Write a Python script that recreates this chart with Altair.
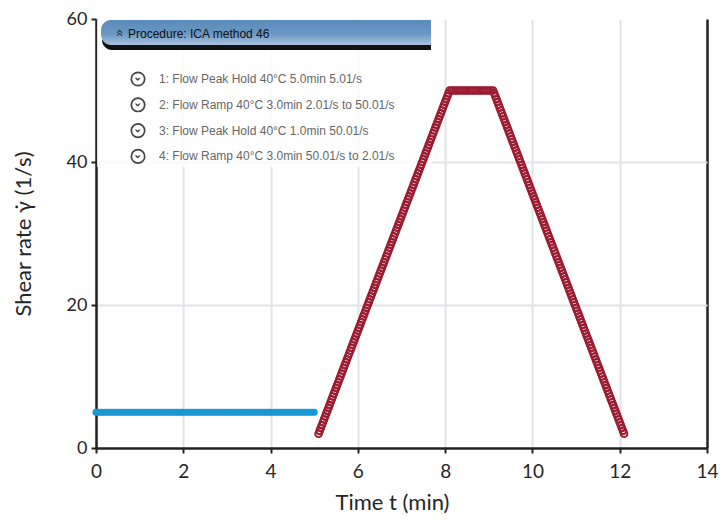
import altair as alt
import pandas as pd

# ---------------- data ----------------
# Step 1: Flow peak hold, 5.01 1/s for 5 min (blue)
BLUE_T = [
    0.00, 0.05, 0.10, 0.15, 0.20, 0.25, 0.30, 0.35, 0.40, 0.45,
    0.50, 0.55, 0.60, 0.65, 0.70, 0.75, 0.80, 0.85, 0.90, 0.95,
    1.00, 1.05, 1.10, 1.15, 1.20, 1.25, 1.30, 1.35, 1.40, 1.45,
    1.50, 1.55, 1.60, 1.65, 1.70, 1.75, 1.80, 1.85, 1.90, 1.95,
    2.00, 2.05, 2.10, 2.15, 2.20, 2.25, 2.30, 2.35, 2.40, 2.45,
    2.50, 2.55, 2.60, 2.65, 2.70, 2.75, 2.80, 2.85, 2.90, 2.95,
    3.00, 3.05, 3.10, 3.15, 3.20, 3.25, 3.30, 3.35, 3.40, 3.45,
    3.50, 3.55, 3.60, 3.65, 3.70, 3.75, 3.80, 3.85, 3.90, 3.95,
    4.00, 4.05, 4.10, 4.15, 4.20, 4.25, 4.30, 4.35, 4.40, 4.45,
    4.50, 4.55, 4.60, 4.65, 4.70, 4.75, 4.80, 4.85, 4.90, 4.95,
    5.00,
]
BLUE_V = [5.01] * len(BLUE_T)

# Step 2: ramp up 2 -> 50 1/s (red)
RAMP_UP_T = [
    5.100, 5.125, 5.150, 5.175, 5.200, 5.225, 5.250, 5.275, 5.300, 5.325,
    5.350, 5.375, 5.400, 5.425, 5.450, 5.475, 5.500, 5.525, 5.550, 5.575,
    5.600, 5.625, 5.650, 5.675, 5.700, 5.725, 5.750, 5.775, 5.800, 5.825,
    5.850, 5.875, 5.900, 5.925, 5.950, 5.975, 6.000, 6.025, 6.050, 6.075,
    6.100, 6.125, 6.150, 6.175, 6.200, 6.225, 6.250, 6.275, 6.300, 6.325,
    6.350, 6.375, 6.400, 6.425, 6.450, 6.475, 6.500, 6.525, 6.550, 6.575,
    6.600, 6.625, 6.650, 6.675, 6.700, 6.725, 6.750, 6.775, 6.800, 6.825,
    6.850, 6.875, 6.900, 6.925, 6.950, 6.975, 7.000, 7.025, 7.050, 7.075,
    7.100, 7.125, 7.150, 7.175, 7.200, 7.225, 7.250, 7.275, 7.300, 7.325,
    7.350, 7.375, 7.400, 7.425, 7.450, 7.475, 7.500, 7.525, 7.550, 7.575,
    7.600, 7.625, 7.650, 7.675, 7.700, 7.725, 7.750, 7.775, 7.800, 7.825,
    7.850, 7.875, 7.900, 7.925, 7.950, 7.975, 8.000, 8.025, 8.050, 8.075,
    8.100,
]
RAMP_UP_V = [
    2.0, 2.4, 2.8, 3.2, 3.6, 4.0, 4.4, 4.8, 5.2, 5.6,
    6.0, 6.4, 6.8, 7.2, 7.6, 8.0, 8.4, 8.8, 9.2, 9.6,
    10.0, 10.4, 10.8, 11.2, 11.6, 12.0, 12.4, 12.8, 13.2, 13.6,
    14.0, 14.4, 14.8, 15.2, 15.6, 16.0, 16.4, 16.8, 17.2, 17.6,
    18.0, 18.4, 18.8, 19.2, 19.6, 20.0, 20.4, 20.8, 21.2, 21.6,
    22.0, 22.4, 22.8, 23.2, 23.6, 24.0, 24.4, 24.8, 25.2, 25.6,
    26.0, 26.4, 26.8, 27.2, 27.6, 28.0, 28.4, 28.8, 29.2, 29.6,
    30.0, 30.4, 30.8, 31.2, 31.6, 32.0, 32.4, 32.8, 33.2, 33.6,
    34.0, 34.4, 34.8, 35.2, 35.6, 36.0, 36.4, 36.8, 37.2, 37.6,
    38.0, 38.4, 38.8, 39.2, 39.6, 40.0, 40.4, 40.8, 41.2, 41.6,
    42.0, 42.4, 42.8, 43.2, 43.6, 44.0, 44.4, 44.8, 45.2, 45.6,
    46.0, 46.4, 46.8, 47.2, 47.6, 48.0, 48.4, 48.8, 49.2, 49.6,
    50.0,
]

# Step 3: peak hold at 50 1/s for 1 min (red)
HOLD_T = [8.15, 8.20, 8.25, 8.30, 8.35, 8.40, 8.45, 8.50, 8.55, 8.60,
          8.65, 8.70, 8.75, 8.80, 8.85, 8.90, 8.95, 9.00, 9.05]
HOLD_V = [50.0] * len(HOLD_T)

# Step 4: ramp down 50 -> 2 1/s (red)
RAMP_DOWN_T = [
    9.100, 9.125, 9.150, 9.175, 9.200, 9.225, 9.250, 9.275, 9.300, 9.325,
    9.350, 9.375, 9.400, 9.425, 9.450, 9.475, 9.500, 9.525, 9.550, 9.575,
    9.600, 9.625, 9.650, 9.675, 9.700, 9.725, 9.750, 9.775, 9.800, 9.825,
    9.850, 9.875, 9.900, 9.925, 9.950, 9.975, 10.000, 10.025, 10.050, 10.075,
    10.100, 10.125, 10.150, 10.175, 10.200, 10.225, 10.250, 10.275, 10.300, 10.325,
    10.350, 10.375, 10.400, 10.425, 10.450, 10.475, 10.500, 10.525, 10.550, 10.575,
    10.600, 10.625, 10.650, 10.675, 10.700, 10.725, 10.750, 10.775, 10.800, 10.825,
    10.850, 10.875, 10.900, 10.925, 10.950, 10.975, 11.000, 11.025, 11.050, 11.075,
    11.100, 11.125, 11.150, 11.175, 11.200, 11.225, 11.250, 11.275, 11.300, 11.325,
    11.350, 11.375, 11.400, 11.425, 11.450, 11.475, 11.500, 11.525, 11.550, 11.575,
    11.600, 11.625, 11.650, 11.675, 11.700, 11.725, 11.750, 11.775, 11.800, 11.825,
    11.850, 11.875, 11.900, 11.925, 11.950, 11.975, 12.000, 12.025, 12.050, 12.075,
    12.100,
]
RAMP_DOWN_V = [
    50.0, 49.6, 49.2, 48.8, 48.4, 48.0, 47.6, 47.2, 46.8, 46.4,
    46.0, 45.6, 45.2, 44.8, 44.4, 44.0, 43.6, 43.2, 42.8, 42.4,
    42.0, 41.6, 41.2, 40.8, 40.4, 40.0, 39.6, 39.2, 38.8, 38.4,
    38.0, 37.6, 37.2, 36.8, 36.4, 36.0, 35.6, 35.2, 34.8, 34.4,
    34.0, 33.6, 33.2, 32.8, 32.4, 32.0, 31.6, 31.2, 30.8, 30.4,
    30.0, 29.6, 29.2, 28.8, 28.4, 28.0, 27.6, 27.2, 26.8, 26.4,
    26.0, 25.6, 25.2, 24.8, 24.4, 24.0, 23.6, 23.2, 22.8, 22.4,
    22.0, 21.6, 21.2, 20.8, 20.4, 20.0, 19.6, 19.2, 18.8, 18.4,
    18.0, 17.6, 17.2, 16.8, 16.4, 16.0, 15.6, 15.2, 14.8, 14.4,
    14.0, 13.6, 13.2, 12.8, 12.4, 12.0, 11.6, 11.2, 10.8, 10.4,
    10.0, 9.6, 9.2, 8.8, 8.4, 8.0, 7.6, 7.2, 6.8, 6.4,
    6.0, 5.6, 5.2, 4.8, 4.4, 4.0, 3.6, 3.2, 2.8, 2.4,
    2.0,
]

X_TICKS = [0, 2, 4, 6, 8, 10, 12, 14]
Y_TICKS = [0, 20, 40, 60]

PANEL_TITLE = "Procedure: ICA method 46"
PANEL_STEPS = [
    "1: Flow Peak Hold 40°C 5.0min 5.01/s",
    "2: Flow Ramp 40°C 3.0min 2.01/s to 50.01/s",
    "3: Flow Peak Hold 40°C 1.0min 50.01/s",
    "4: Flow Ramp 40°C 3.0min 50.01/s to 2.01/s",
]

# ---------------- chart ----------------
W, H = 611, 429
FONT = "Lato"
PANEL_FONT = "Liberation Sans"
INK = "#262626"

blue_df = pd.DataFrame({"t": BLUE_T, "rate": BLUE_V})
red_df = pd.DataFrame({
    "t": RAMP_UP_T + HOLD_T + RAMP_DOWN_T,
    "rate": RAMP_UP_V + HOLD_V + RAMP_DOWN_V,
})

x_scale = alt.Scale(domain=[0, 14], nice=False, zero=False)
y_scale = alt.Scale(domain=[0, 60], nice=False)

x_axis = alt.Axis(
    values=X_TICKS, title="Time t (min)", grid=True, labelFlush=False,
    gridColor={"condition": {"test": "datum.value == 14", "value": "#222222"}, "value": "#e2e2e8"},
    gridWidth={"condition": {"test": "datum.value == 14", "value": 2.5}, "value": 2},
    labelFont=FONT, labelFontSize=19, labelColor=INK, labelPadding=9,
    titleFont=FONT, titleFontSize=22, titleColor=INK, titleFontWeight="normal",
    titlePadding=11, titleX=296,
    tickColor="#222222", tickWidth=2, tickSize=5,
    domainColor="#222222", domainWidth=2.5,
)
y_axis = alt.Axis(
    values=Y_TICKS, title="Shear rate γ̇ (1/s)", grid=True, labelFlush=False,
    gridColor="#e2e2e8",
    gridWidth=2,
    gridOpacity={"condition": {"test": "datum.value == 60 || datum.value == 0", "value": 0}, "value": 1},
    labelFont=FONT, labelFontSize=18, labelColor=INK, labelPadding=4,
    titleFont=FONT, titleFontSize=22, titleColor=INK, titleFontWeight="normal",
    titlePadding=31,
    tickColor="#222222", tickWidth=2, tickSize=5,
    domainColor="#222222", domainWidth=2.5,
)

base_axes = alt.Chart(blue_df).mark_point(opacity=0).encode(
    x=alt.X("t:Q", scale=x_scale, axis=x_axis),
    y=alt.Y("rate:Q", scale=y_scale, axis=y_axis),
)

one = pd.DataFrame({"k": [0]})

panel_bg = alt.Chart(one).mark_rect(color="white", opacity=0.82).encode(
    x=alt.value(1), x2=alt.value(336), y=alt.value(1), y2=alt.value(148)
)
header_shadow = alt.Chart(one).mark_rect(
    color="#111111", cornerRadiusTopLeft=10, cornerRadiusBottomLeft=10
).encode(x=alt.value(6), x2=alt.value(335), y=alt.value(5), y2=alt.value(31))
header = alt.Chart(one).mark_rect(
    color=alt.LinearGradient(
        gradient="linear", x1=0, y1=0, x2=0, y2=1,
        stops=[alt.GradientStop(offset=0, color="#5b8aba"),
               alt.GradientStop(offset=0.55, color="#6a97c4"),
               alt.GradientStop(offset=1, color="#aac2de")],
    ),
    cornerRadiusTopLeft=10, cornerRadiusBottomLeft=10,
).encode(x=alt.value(5), x2=alt.value(335), y=alt.value(1), y2=alt.value(26))
header_icon = alt.Chart(one).mark_text(
    text="«", angle=90, font=PANEL_FONT, fontSize=13, color="#222222"
).encode(x=alt.value(24), y=alt.value(14))
header_text = alt.Chart(one).mark_text(
    text=PANEL_TITLE, font=PANEL_FONT, fontSize=12, color="#111111", align="left", baseline="middle"
).encode(x=alt.value(32), y=alt.value(14.5))

step_layers = []
for i, label in enumerate(PANEL_STEPS):
    yy = 60 + 25.8 * i
    step_layers.append(alt.Chart(one).mark_point(
        shape="circle", size=180, filled=False, stroke="#444444", strokeWidth=1.7, opacity=1
    ).encode(x=alt.value(42), y=alt.value(yy)))
    step_layers.append(alt.Chart(one).mark_text(
        text="›", angle=90, font="DejaVu Sans", fontSize=12, fontWeight="bold", color="#333333"
    ).encode(x=alt.value(42), y=alt.value(yy)))
    step_layers.append(alt.Chart(one).mark_text(
        text=label, font=PANEL_FONT, fontSize=12, color="#666666", align="left", baseline="middle"
    ).encode(x=alt.value(63), y=alt.value(yy)))

blue = alt.Chart(blue_df).mark_point(
    shape="circle", filled=True, size=50, color="#1a98d6", opacity=1
).encode(x=alt.X("t:Q", scale=x_scale), y=alt.Y("rate:Q", scale=y_scale))

red = alt.Chart(red_df).mark_point(
    shape="circle", filled=False, size=46, color="#9b1c31", strokeWidth=1.9, opacity=1
).encode(x=alt.X("t:Q", scale=x_scale), y=alt.Y("rate:Q", scale=y_scale))

chart = alt.layer(
    base_axes, panel_bg, header_shadow, header, header_icon, header_text,
    *step_layers, blue, red,
).properties(
    width=W, height=H,
    autosize=alt.AutoSizeParams(type="none"),
    padding={"left": 88, "top": 11, "right": 12, "bottom": 67},
).configure_view(stroke=None)

chart.save("out.html", embed_options={"renderer": "svg", "actions": False})
